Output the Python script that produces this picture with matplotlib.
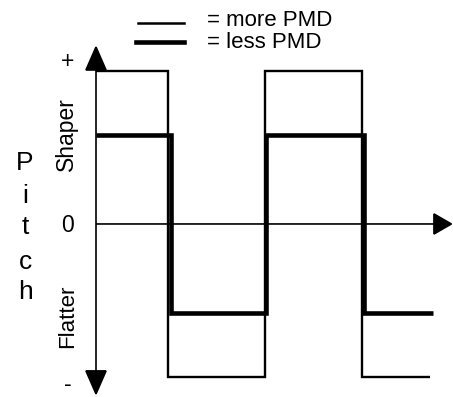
import matplotlib
matplotlib.use("Agg")
import matplotlib.pyplot as plt
from matplotlib.patches import FancyArrowPatch
from matplotlib.lines import Line2D

plt.rcParams['font.family'] = ['Liberation Sans', 'DejaVu Sans']

# Pitch contour over time: step levels and the time points where they change
more_edges = [0, 72, 169, 266, 334]
more_levels = [1.0, -1.0, 1.0, -1.0]
less_edges = [0, 75, 170, 268, 337]
less_levels = [0.58, -0.58, 0.58, -0.58]

legend_labels = ["= more PMD", "= less PMD"]
pitch_word = "Pitch"
upper_label, lower_label = "Shaper", "Flatter"
tick_labels = ["+", "0", "-"]

W, H = 453, 397
fig = plt.figure(figsize=(W / 100, H / 100), dpi=100)
ax = fig.add_axes([0, 0, 1, 1])
ax.set_xlim(-96, 357)
ax.set_ylim(-1.131, 1.464)
ax.axis("off")


def fig_xy(px, py):
    """Pixel position (from top-left) to figure fraction."""
    return px / W, 1 - py / H


# Axes with arrow heads
arrow_kw = dict(mutation_scale=1, color="black", lw=1.2, shrinkA=0, shrinkB=0,
                joinstyle="miter", capstyle="butt")
ax.add_patch(FancyArrowPatch((0, -1.124), (0, 1.17),
                             arrowstyle="<|-|>,head_length=16.5,head_width=7.2",
                             **arrow_kw))
ax.add_patch(FancyArrowPatch((0, 0), (357, 0),
                             arrowstyle="-|>,head_length=12.5,head_width=7.2",
                             **arrow_kw))

# Step contours
ax.stairs(more_levels, more_edges, baseline=None, color="black", lw=1.7)
ax.stairs(less_levels, less_edges, baseline=None, color="black", lw=3.3)

# Legend drawn as plain lines plus text
for (x0, x1, y), lw in zip([(138, 184, 23), (136, 184, 42)], [1.8, 3.3]):
    fig.add_artist(Line2D([x0 / W, x1 / W], [1 - y / H, 1 - y / H],
                          color="black", lw=lw, transform=fig.transFigure))
for label, y in zip(legend_labels, [20, 42]):
    fig.text(*fig_xy(207, y), label, fontsize=16, ha="left", va="center")

# Axis annotations
fig.text(*fig_xy(68, 61), tick_labels[0], fontsize=16.5, ha="center", va="center")
fig.text(*fig_xy(68, 225), tick_labels[1], fontsize=16.5, ha="center", va="center")
fig.text(*fig_xy(68, 396), tick_labels[2], fontsize=16.5, ha="center", va="bottom")
fig.text(*fig_xy(66, 134), upper_label, fontsize=16.5, rotation=90,
         ha="center", va="center")
fig.text(*fig_xy(68, 316), lower_label, fontsize=16, rotation=90,
         ha="center", va="center")
for ch, y in zip(pitch_word, [163, 196, 227, 262, 292]):
    fig.text(*fig_xy(25, y), ch, fontsize=19, ha="center", va="center")

fig.savefig("out.png", dpi=100)
